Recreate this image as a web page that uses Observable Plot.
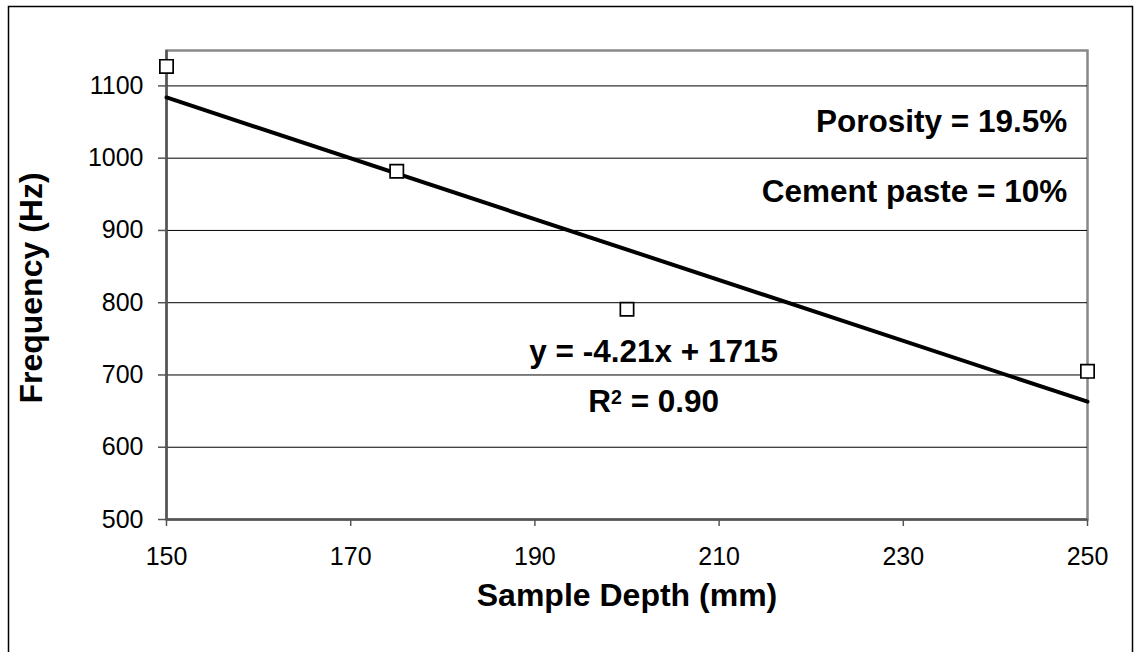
<!DOCTYPE html>
<html>
<head>
<meta charset="utf-8">
<script src="https://cdn.jsdelivr.net/npm/d3@7"></script>
<script src="https://cdn.jsdelivr.net/npm/@observablehq/plot@0.6"></script>
<style>
  html, body { margin: 0; padding: 0; background: #fff; }
  #chart { position: relative; width: 1136px; height: 652px; overflow: hidden; }
</style>
</head>
<body>
<div id="chart"></div>
<script>
// Data
const depth = [150, 175, 200, 250];
const frequency = [1127, 982, 791, 705];
const trendDepth = [150, 250];
const trendFreq = [1084, 663];
const xTicks = [150, 170, 190, 210, 230, 250];
const yTicks = [500, 600, 700, 800, 900, 1000, 1100];
const gridTicks = [600, 700, 800, 900, 1000, 1100];
const xTitle = "Sample Depth (mm)";
const yTitle = "Frequency (Hz)";
const notes = ["Porosity = 19.5%", "Cement paste = 10%"];
const eqLines = ["y = -4.21x + 1715", "R² = 0.90"];

const points = depth.map((d, i) => ({depth: d, freq: frequency[i]}));
const trend = trendDepth.map((d, i) => ({depth: d, freq: trendFreq[i]}));

const font = "'Liberation Sans', Arial, sans-serif";
const big = 31.5;

const plot = Plot.plot({
  width: 1136,
  height: 652,
  marginLeft: 166,
  marginRight: 49,
  marginTop: 50,
  marginBottom: 133,
  style: {fontFamily: font, background: "transparent", color: "#000"},
  x: {domain: [150, 250]},
  y: {domain: [500, 1149]},
  marks: [
    Plot.frame({stroke: "#888", strokeWidth: 2.5}),
    Plot.ruleY(gridTicks, {stroke: "#000", strokeWidth: 1}),
    Plot.ruleY([500], {stroke: "#555", strokeWidth: 2.5}),
    Plot.ruleX([150], {stroke: "#555", strokeWidth: 2.5}),
    Plot.axisX({ticks: xTicks, tickSize: 7, tickPadding: 21, fontSize: 25, stroke: "#555", strokeWidth: 1.5, label: null, tickFormat: d => String(d)}),
    Plot.axisY({ticks: yTicks, tickSize: 8, tickPadding: 15, fontSize: 25, stroke: "#555", strokeWidth: 1.5, label: null, tickFormat: d => String(d)}),
    Plot.line(trend, {x: "depth", y: "freq", stroke: "#000", strokeWidth: 4}),
    Plot.dot(points, {x: "depth", y: "freq", symbol: "square", r: 7.5, fill: "#fff", stroke: "#000", strokeWidth: 1.7}),
    Plot.text([notes[0]], {x: 247.8, y: 1050, text: d => d, textAnchor: "end", fontSize: big, fontWeight: "bold", fill: "#000"}),
    Plot.text([notes[1]], {x: 247.8, y: 954, text: d => d, textAnchor: "end", fontSize: big, fontWeight: "bold", fill: "#000"}),
    Plot.text([eqLines[0]], {x: 202.9, y: 732, text: d => d, fontSize: big, fontWeight: "bold", fill: "#000"}),
    Plot.text([eqLines[1]], {x: 202.9, y: 663, text: d => d, fontSize: big, fontWeight: "bold", fill: "#000"}),
    Plot.text([xTitle], {frameAnchor: "bottom", textAnchor: "middle", dy: 86, text: d => d, fontSize: 32, fontWeight: "bold", fill: "#000"}),
    Plot.text([yTitle], {frameAnchor: "left", textAnchor: "middle", dx: -135, dy: 3, rotate: -90, text: d => d, fontSize: 32, fontWeight: "bold", fill: "#000"})
  ]
});

const host = document.getElementById("chart");
host.appendChild(plot);

// Render the "2" in R² as a raised superscript, as in the reference
d3.select(plot).selectAll("text")
  .filter(function () { return this.textContent === eqLines[1]; })
  .each(function () {
    const [head, tail] = eqLines[1].split("²");
    const t = d3.select(this);
    const baseDy = t.attr("dy");
    t.text(null);
    const holder = t.append("tspan").attr("dy", baseDy);
    t.attr("dy", null);
    holder.text(head);
    t.append("tspan").attr("dy", "-0.42em").attr("font-size", "0.62em").text("2");
    t.append("tspan").attr("dy", "0.26em").text(tail);
  });

// Outer chart border (extends past the bottom of the view, as in the reference)
d3.select(plot).append("rect")
  .attr("x", 8.5).attr("y", 6.5).attr("width", 1124).attr("height", 700)
  .attr("fill", "none").attr("stroke", "#000").attr("stroke-width", 1.5);
</script>
</body>
</html>
